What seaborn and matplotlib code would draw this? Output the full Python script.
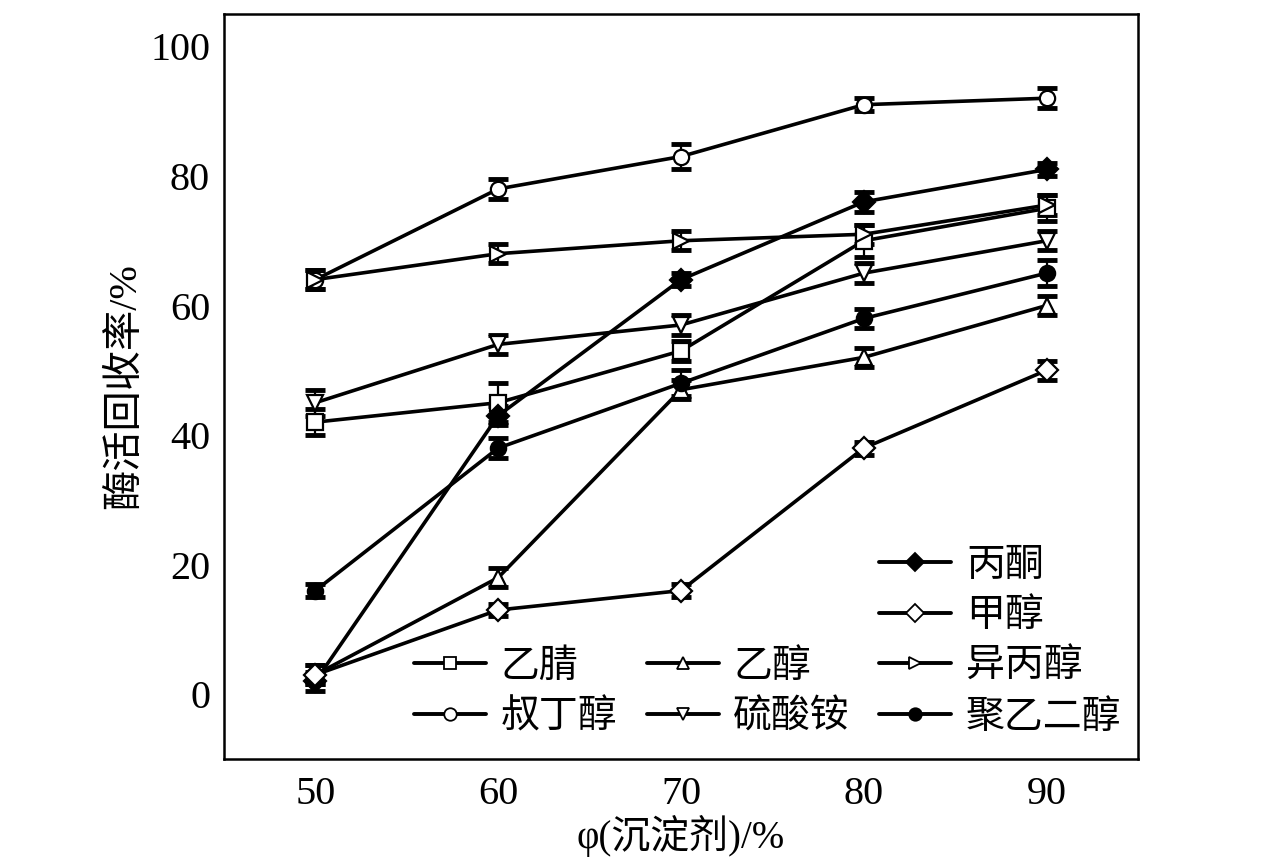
import numpy as np
import pandas as pd
import matplotlib
matplotlib.use('Agg')
import matplotlib.pyplot as plt
import seaborn as sns
from matplotlib.lines import Line2D

sns.set_theme(style='white')
plt.rcParams['font.family'] = ['Liberation Serif', 'Noto Sans CJK SC']
plt.rcParams.update({'text.color': 'black', 'axes.labelcolor': 'black',
                     'xtick.color': 'black', 'ytick.color': 'black'})

# Data
conc = [50, 60, 70, 80, 90]
names = ['乙腈', '叔丁醇', '乙醇', '硫酸铵', '异丙醇', '聚乙二醇', '丙酮', '甲醇']
acetonitrile = [42, 45, 53, 70, 75]
tert_butanol = [64, 78, 83, 91, 92]
ethanol = [3, 18, 47, 52, 60]
ammonium_sulfate = [45, 54, 57, 65, 70]
isopropanol = [64, 68, 70, 71, 75.5]
peg = [16, 38, 48, 58, 65]
acetone = [2, 43, 64, 76, 81]
methanol = [3, 13, 16, 38, 50]

err_acetonitrile = [2, 3, 1.5, 2.5, 2]
err_tert_butanol = [1.5, 1.5, 2, 1, 1.5]
err_ethanol = [1.5, 1.5, 1.5, 1.5, 1.5]
err_ammonium_sulfate = [2, 1.5, 1.5, 1.5, 1.5]
err_isopropanol = [1.5, 1.5, 1.5, 1.5, 1.5]
err_peg = [1, 1.5, 2, 1.5, 2]
err_acetone = [1.5, 1.5, 1, 1.5, 1]
err_methanol = [1.5, 1, 1, 1, 1.5]

values = [acetonitrile, tert_butanol, ethanol, ammonium_sulfate,
          isopropanol, peg, acetone, methanol]
errors = [err_acetonitrile, err_tert_butanol, err_ethanol, err_ammonium_sulfate,
          err_isopropanol, err_peg, err_acetone, err_methanol]
markers = ['s', 'o', '^', 'v', '>', 'o', 'D', 'D']
faces = ['white', 'white', 'white', 'white', 'white', 'black', 'black', 'white']

fig = plt.figure(figsize=(12.76, 8.63), dpi=100)
ax = fig.add_axes([224 / 1276, 104 / 863, 914 / 1276, 745 / 863])

handles = {}
for name, vals, err, m, fc in zip(names, values, errors, markers, faces):
    ax.errorbar(conc, vals, yerr=err, fmt='none', ecolor='black',
                elinewidth=1.6, capsize=7, capthick=3.5, zorder=2)
    sns.lineplot(x=conc, y=vals, ax=ax, color='black', lw=2.6,
                 marker=m, ms=11, mfc=fc, mec='black', mew=1.6, zorder=3)
    handles[name] = Line2D([], [], color='black', lw=2.8, marker=m, ms=9,
                           mfc=fc, mec='black', mew=1.3)

ax.set_xlim(45, 95)
ax.set_ylim(-10, 105)
ax.set_xticks([50, 60, 70, 80, 90])
ax.set_yticks([0, 20, 40, 60, 80, 100])
ax.tick_params(direction='in', length=8, width=1.8, labelsize=29,
               top=False, right=False)
ax.tick_params(axis='y', pad=10)
ax.tick_params(axis='x', pad=12)
for s in ax.spines.values():
    s.set_linewidth(1.8)
    s.set_color('black')

ax.set_xlabel('φ(沉淀剂)/%', fontsize=28, labelpad=2)
ax.set_ylabel('酶活回收率/%', fontsize=29, labelpad=4)

blank = Line2D([], [], color='none')
leg_handles = [blank, blank, handles['乙腈'], handles['叔丁醇'],
               blank, blank, handles['乙醇'], handles['硫酸铵'],
               handles['丙酮'], handles['甲醇'], handles['异丙醇'], handles['聚乙二醇']]
leg_labels = ['', '', '乙腈', '叔丁醇', '', '', '乙醇', '硫酸铵',
              '丙酮', '甲醇', '异丙醇', '聚乙二醇']
ax.legend(leg_handles, leg_labels, ncol=3, frameon=False, fontsize=28,
          loc='lower left', bbox_to_anchor=(0.208, 0.03), borderpad=0,
          borderaxespad=0, handlelength=1.85, handletextpad=0.38,
          columnspacing=0.75, labelspacing=0.35)

fig.savefig('out.png', dpi=100)
